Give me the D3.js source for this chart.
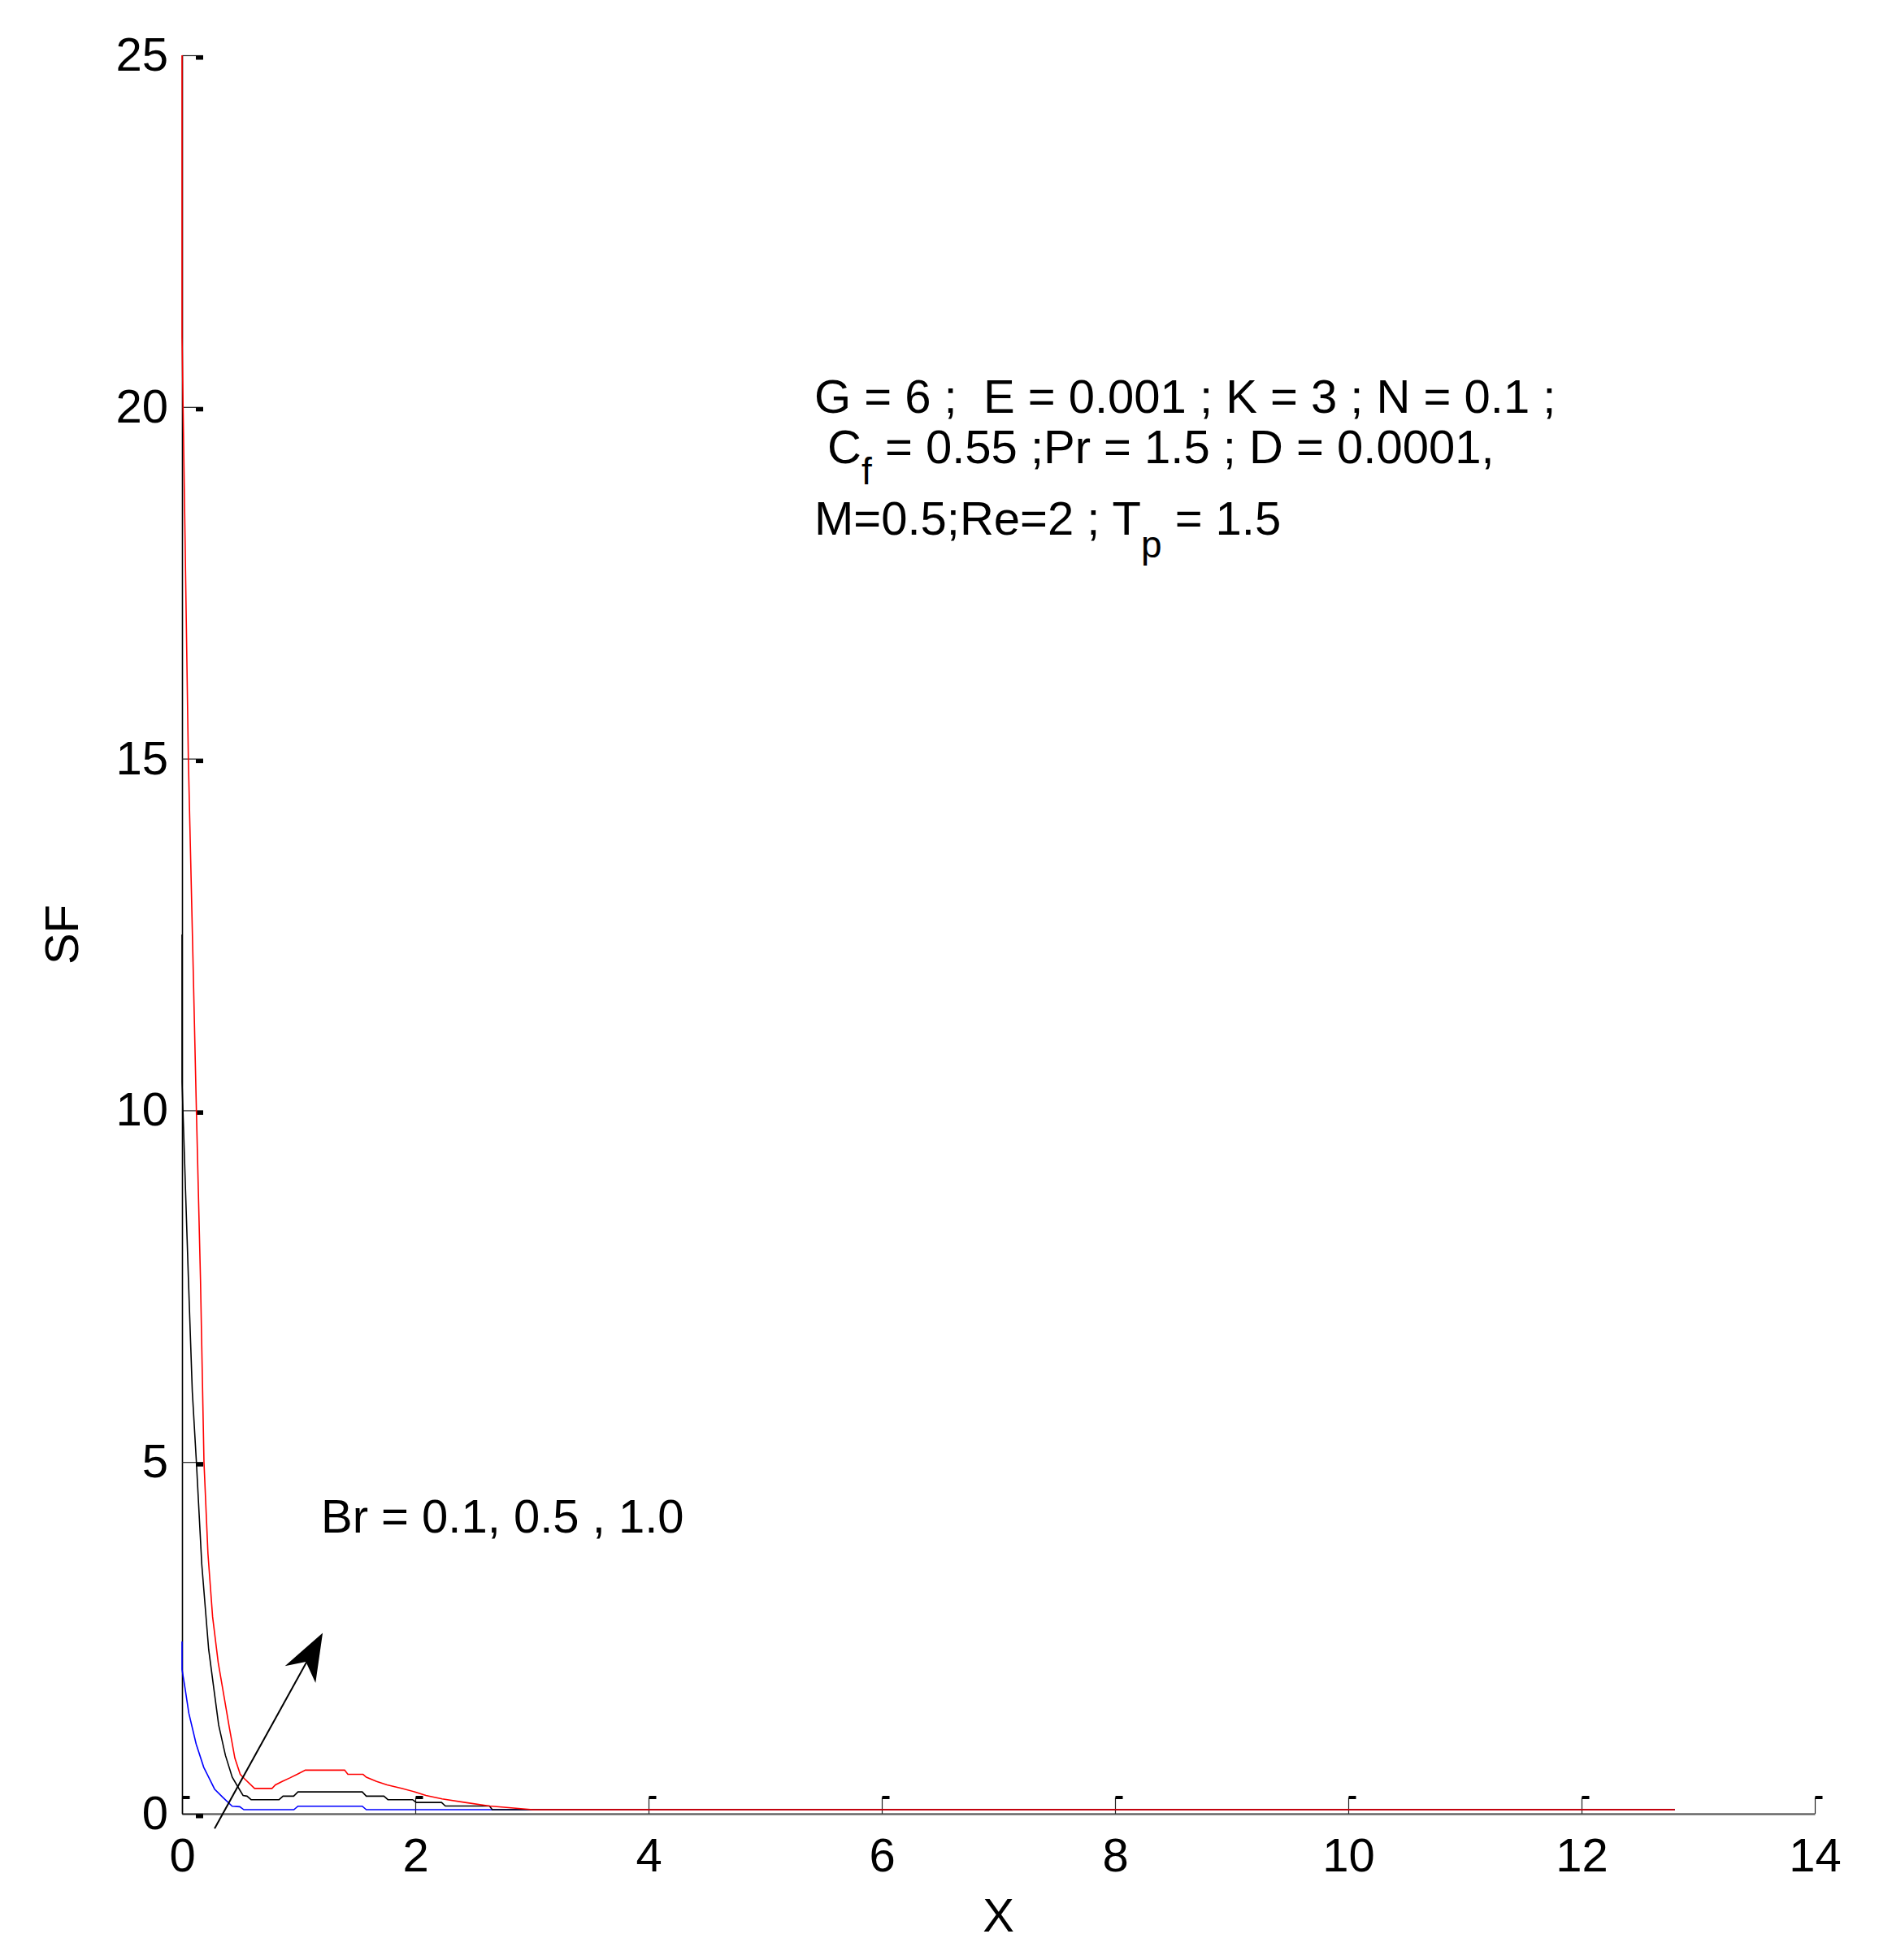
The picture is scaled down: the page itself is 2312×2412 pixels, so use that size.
<!DOCTYPE html>
<html>
<head>
<meta charset="utf-8">
<script src="https://cdn.jsdelivr.net/npm/d3@7"></script>
<style>
  html, body { margin: 0; padding: 0; background: #fff; }
  svg { display: block; }
  text { font-family: 'Liberation Sans', Arial, Helvetica, sans-serif; fill: #000; }
</style>
</head>
<body>
<script>
const xTicks = [0, 2, 4, 6, 8, 10, 12, 14]
const yTicks = [0, 5, 10, 15, 20, 25]

// SF against X for three Brinkman numbers
const sfBr01 = [[0, 2.45], [0, 2.05], [0.028, 1.76], [0.058, 1.43], [0.121, 0.99], [0.186, 0.66],
  [0.279, 0.35], [0.348, 0.235], [0.43, 0.107], [0.495, 0.1], [0.53, 0.057], [0.959, 0.057],
  [0.994, 0.107], [1.545, 0.107], [1.58, 0.057], [12.8, 0.057]]

const sfBr05 = [[0, 12.5], [0, 10.4], [0.054, 7.63], [0.088, 6.0], [0.123, 5.0], [0.169, 3.55],
  [0.228, 2.34], [0.274, 1.76], [0.314, 1.26], [0.372, 0.83], [0.43, 0.52], [0.476, 0.39],
  [0.523, 0.26], [0.557, 0.25], [0.592, 0.2], [0.832, 0.2], [0.866, 0.25], [0.957, 0.25],
  [0.994, 0.31], [1.545, 0.31], [1.58, 0.25], [1.731, 0.25], [1.765, 0.2], [1.977, 0.2],
  [2.009, 0.16], [2.225, 0.16], [2.258, 0.11], [2.636, 0.11], [2.66, 0.057], [12.8, 0.057]]

const sfBr10 = [[0, 25], [0, 21], [0.009, 20], [0.054, 15], [0.093, 12.2], [0.123, 10],
  [0.158, 7.6], [0.188, 5], [0.222, 3.7], [0.262, 2.8], [0.31, 2.15], [0.365, 1.62], [0.406, 1.22],
  [0.453, 0.79], [0.499, 0.56], [0.534, 0.5], [0.622, 0.36], [0.771, 0.36], [0.801, 0.41],
  [0.859, 0.46], [0.925, 0.51], [0.987, 0.56], [1.057, 0.62], [1.394, 0.62], [1.422, 0.56],
  [1.552, 0.56], [1.58, 0.52], [1.668, 0.46], [1.758, 0.41], [1.882, 0.36], [1.998, 0.31],
  [2.091, 0.26], [2.23, 0.21], [2.427, 0.16], [2.636, 0.11], [3.008, 0.057], [12.8, 0.057]]

const seriesColors = ['#0000ff', '#000000', '#ff0000']
const series = [sfBr01, sfBr05, sfBr10]

// arrow annotation (data units): tail and tip
const arrowFrom = [0.279, -0.21]
const arrowTo = [1.206, 2.57]

const width = 2312
const height = 2412
const nb = '\u00a0'

const x = d3.scaleLinear().domain([0, 14]).range([224, 2233])
const y = d3.scaleLinear().domain([0, 25]).range([2232, 68])

const svg = d3.select('body').append('svg')
  .attr('width', width)
  .attr('height', height)

svg.append('rect').attr('width', width).attr('height', height).attr('fill', '#fff')

// x axis
const gx = svg.append('g')
  .attr('transform', `translate(0,${y(0)})`)
  .call(d3.axisBottom(x).tickValues(xTicks).tickSize(-20).tickSizeOuter(0).tickPadding(30).tickFormat(d3.format('d')))
gx.attr('font-size', 58).attr('font-family', null)
gx.select('.domain').attr('stroke', '#666').attr('stroke-width', 2.5)
gx.selectAll('.tick line').attr('stroke', '#222').attr('stroke-width', 1.2)
gx.selectAll('.tick').append('rect')
  .attr('x', 0).attr('y', -22).attr('width', 9).attr('height', 4).attr('fill', '#000')

// y axis
const gy = svg.append('g')
  .attr('transform', `translate(${x(0)},0)`)
  .call(d3.axisLeft(y).tickValues(yTicks).tickSize(-26).tickSizeOuter(0).tickPadding(17).tickFormat(d3.format('d')))
gy.attr('font-size', 58).attr('font-family', null)
gy.select('.domain').attr('stroke', '#000').attr('stroke-width', 1.6)
gy.selectAll('.tick line').attr('stroke', '#222').attr('stroke-width', 1.2)
gy.selectAll('.tick').append('rect')
  .attr('x', 17).attr('y', 0).attr('width', 9).attr('height', 5).attr('fill', '#000')

// curves
const line = d3.line().x(d => x(d[0])).y(d => y(d[1]))
svg.append('g')
  .attr('fill', 'none')
  .attr('stroke-width', 1.6)
  .selectAll('path')
  .data(series)
  .join('path')
  .attr('stroke', (d, i) => seriesColors[i])
  .attr('d', line)

// axis titles
svg.append('text')
  .attr('x', (x(0) + x(14)) / 2)
  .attr('y', 2377)
  .attr('text-anchor', 'middle')
  .attr('font-size', 58)
  .text('X')

svg.append('text')
  .attr('transform', `translate(96,${(y(0) + y(25)) / 2}) rotate(-90)`)
  .attr('text-anchor', 'middle')
  .attr('font-size', 58)
  .text('SF')

// parameter block
const info = svg.append('g').attr('font-size', 58)
info.append('text').attr('x', 1002).attr('y', 508).text(`G = 6 ;${nb} E = 0.001 ; K = 3 ; N = 0.1 ;`)

const l2 = info.append('text').attr('x', 1002).attr('y', 570)
l2.append('tspan').text(`${nb}C`)
l2.append('tspan').attr('font-size', 46).attr('dy', 26).text('f')
l2.append('tspan').attr('dy', -26).text(`${nb}= 0.55 ;Pr = 1.5 ; D = 0.0001,`)

const l3 = info.append('text').attr('x', 1002).attr('y', 658)
l3.append('tspan').text('M=0.5;Re=2 ; T')
l3.append('tspan').attr('font-size', 46).attr('dy', 28).text('p')
l3.append('tspan').attr('dy', -28).text(`${nb}= 1.5`)

svg.append('text')
  .attr('x', 395).attr('y', 1886)
  .attr('font-size', 58)
  .text('Br = 0.1, 0.5 , 1.0')

// arrow
const ax0 = x(arrowFrom[0]); const ay0 = y(arrowFrom[1])
const ax1 = x(arrowTo[0]); const ay1 = y(arrowTo[1])
const len = Math.hypot(ax1 - ax0, ay1 - ay0)
const ang = Math.atan2(ay1 - ay0, ax1 - ax0) * 180 / Math.PI
const arrow = svg.append('g').attr('transform', `translate(${ax0},${ay0}) rotate(${ang})`)
arrow.append('line')
  .attr('x1', 0).attr('y1', 0).attr('x2', len - 40).attr('y2', 0)
  .attr('stroke', '#000').attr('stroke-width', 2)
arrow.append('path')
  .attr('d', `M${len},0 L${len - 58},-21 L${len - 41},-1 L${len - 58},22 Z`)
  .attr('fill', '#000')
</script>
</body>
</html>
